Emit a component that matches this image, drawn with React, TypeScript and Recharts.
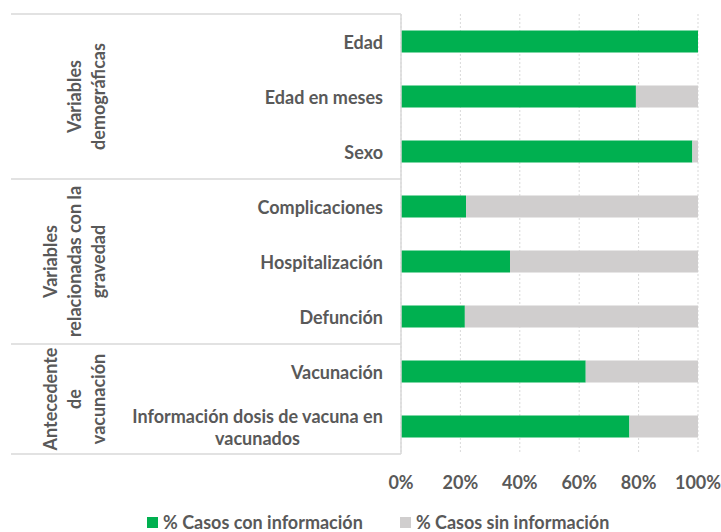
import { Bar, BarChart, CartesianGrid, Legend, XAxis, YAxis } from "recharts"

// Data (percent of cases)
const categories = [
	"Edad",
	"Edad en meses",
	"Sexo",
	"Complicaciones",
	"Hospitalización",
	"Defunción",
	"Vacunación",
	"Información dosis de vacuna en vacunados",
]
const conInformacion = [100, 79.1, 98.1, 21.9, 36.7, 21.5, 62.2, 76.9]
const sinInformacion = [0, 20.9, 1.9, 78.1, 63.3, 78.5, 37.8, 23.1]
const xTicks = [0, 20, 40, 60, 80, 100]

// Row groups on the left, each spanning `groupSizes[i]` categories
const groupLabels = [
	["Variables", "demográficas"],
	["Variables", "relacionadas con la", "gravedad"],
	["Antecedente", "de", "vacunación"],
]
const groupSizes = [3, 3, 2]

const data = categories.map((name, i) => ({ name, con: conInformacion[i], sin: sinInformacion[i] }))

const FONT = "Lato, 'Open Sans', sans-serif"
const FONT_SIZE = 18
const TEXT = "#595959"
const GREEN = "#00b050"
const GREY = "#d0cece"
const RULE = "#d9d9d9"
const LEFT_EDGE = 11
const GROUP_RIGHT = 98
const GROUP_STEP = 24
const TICK_MARGIN = 18
const WRAP_CHARS = 30

const groupStarts = groupSizes.map((_, i) => groupSizes.slice(0, i).reduce((a, b) => a + b, 0))

let ctx: CanvasRenderingContext2D | null = null
function textWidth(s: string) {
	if (!ctx) ctx = document.createElement("canvas").getContext("2d")
	if (!ctx) return s.length * FONT_SIZE * 0.52
	ctx.font = `700 ${FONT_SIZE}px ${FONT}`
	return ctx.measureText(s).width
}

function wrap(label: string) {
	const lines: string[] = []
	let cur = ""
	for (const w of label.split(" ")) {
		const next = cur ? `${cur} ${w}` : w
		if (next.length > WRAP_CHARS && cur) {
			lines.push(cur)
			cur = w
		} else cur = next
	}
	if (cur) lines.push(cur)
	return lines
}

const textStyle = { fontFamily: FONT, fontSize: FONT_SIZE, fontWeight: 700, fill: TEXT }

function CategoryTick(props: any) {
	const { x, y, payload, index } = props
	const half = payload?.offset || 27.5
	const axisX = x + TICK_MARGIN
	const lines = wrap(String(payload.value))
	const maxW = Math.max(...lines.map(textWidth))
	const g = groupStarts.indexOf(index)

	return (
		<g>
			{lines.length === 1 ? (
				<text x={x} y={y} textAnchor="end" dominantBaseline="central" style={textStyle}>
					{lines[0]}
				</text>
			) : (
				lines.map((l, j) => (
					<text
						key={j}
						x={x - maxW / 2}
						y={y + (j - (lines.length - 1) / 2) * 22}
						textAnchor="middle"
						dominantBaseline="central"
						style={textStyle}
					>
						{l}
					</text>
				))
			)}
			{g >= 0 && (
				<>
					<line x1={LEFT_EDGE} x2={axisX} y1={y - half} y2={y - half} stroke={RULE} strokeWidth={1.5} />
					{groupLabels[g].map((l, j, arr) => {
						const cx = GROUP_RIGHT - (arr.length - 1 - j) * GROUP_STEP
						const cy = y - half + groupSizes[g] * half
						return (
							<text
								key={j}
								x={cx}
								y={cy}
								transform={`rotate(-90, ${cx}, ${cy})`}
								textAnchor="middle"
								dominantBaseline="central"
								style={textStyle}
							>
								{l}
							</text>
						)
					})}
				</>
			)}
			{index === categories.length - 1 && (
				<line x1={LEFT_EDGE} x2={axisX} y1={y + half} y2={y + half} stroke={RULE} strokeWidth={1.5} />
			)}
		</g>
	)
}

function PercentTick(props: any) {
	const { x, y, payload } = props
	return (
		<text x={x} y={y + 28} textAnchor="middle" dominantBaseline="central" style={textStyle}>
			{`${payload.value}%`}
		</text>
	)
}

function LegendContent(props: any) {
	const items = props.payload ?? []
	return (
		<div
			style={{
				display: "flex",
				alignItems: "center",
				height: 24,
				paddingLeft: 147,
				fontFamily: FONT,
				fontSize: FONT_SIZE,
				fontWeight: 700,
				color: TEXT,
				whiteSpace: "nowrap",
			}}
		>
			{items.map((it: any) => (
				<span key={it.value} style={{ display: "inline-flex", alignItems: "center", marginRight: 37 }}>
					<span style={{ width: 11, height: 11, background: it.color, marginRight: 5, display: "inline-block" }} />
					{it.value}
				</span>
			))}
		</div>
	)
}

export default function App() {
	return (
		<div style={{ position: "absolute", left: 0, top: 0 }}>
			<BarChart
				width={721}
				height={532}
				data={data}
				layout="vertical"
				barCategoryGap="30%"
				margin={{ top: 14, right: 23, left: 0, bottom: 24 }}
			>
				<CartesianGrid horizontal={false} stroke={RULE} strokeDasharray="2 2" />
				<XAxis
					type="number"
					domain={[0, 100]}
					ticks={xTicks}
					axisLine={false}
					tickLine={false}
					tickSize={0}
					tickMargin={0}
					height={30}
					tick={PercentTick}
				/>
				<YAxis
					type="category"
					dataKey="name"
					width={401}
					axisLine={{ stroke: RULE, strokeWidth: 1.5 }}
					tickLine={false}
					tickSize={0}
					tickMargin={TICK_MARGIN}
					interval={0}
					tick={CategoryTick}
				/>
				<Legend
					verticalAlign="bottom"
					content={LegendContent}
					wrapperStyle={{ left: 0, top: 510, bottom: "auto", width: 721, height: 24 }}
				/>
				<Bar dataKey="con" name="% Casos con información" stackId="a" fill={GREEN} isAnimationActive={false} />
				<Bar dataKey="sin" name="% Casos sin información" stackId="a" fill={GREY} isAnimationActive={false} />
			</BarChart>
		</div>
	)
}
